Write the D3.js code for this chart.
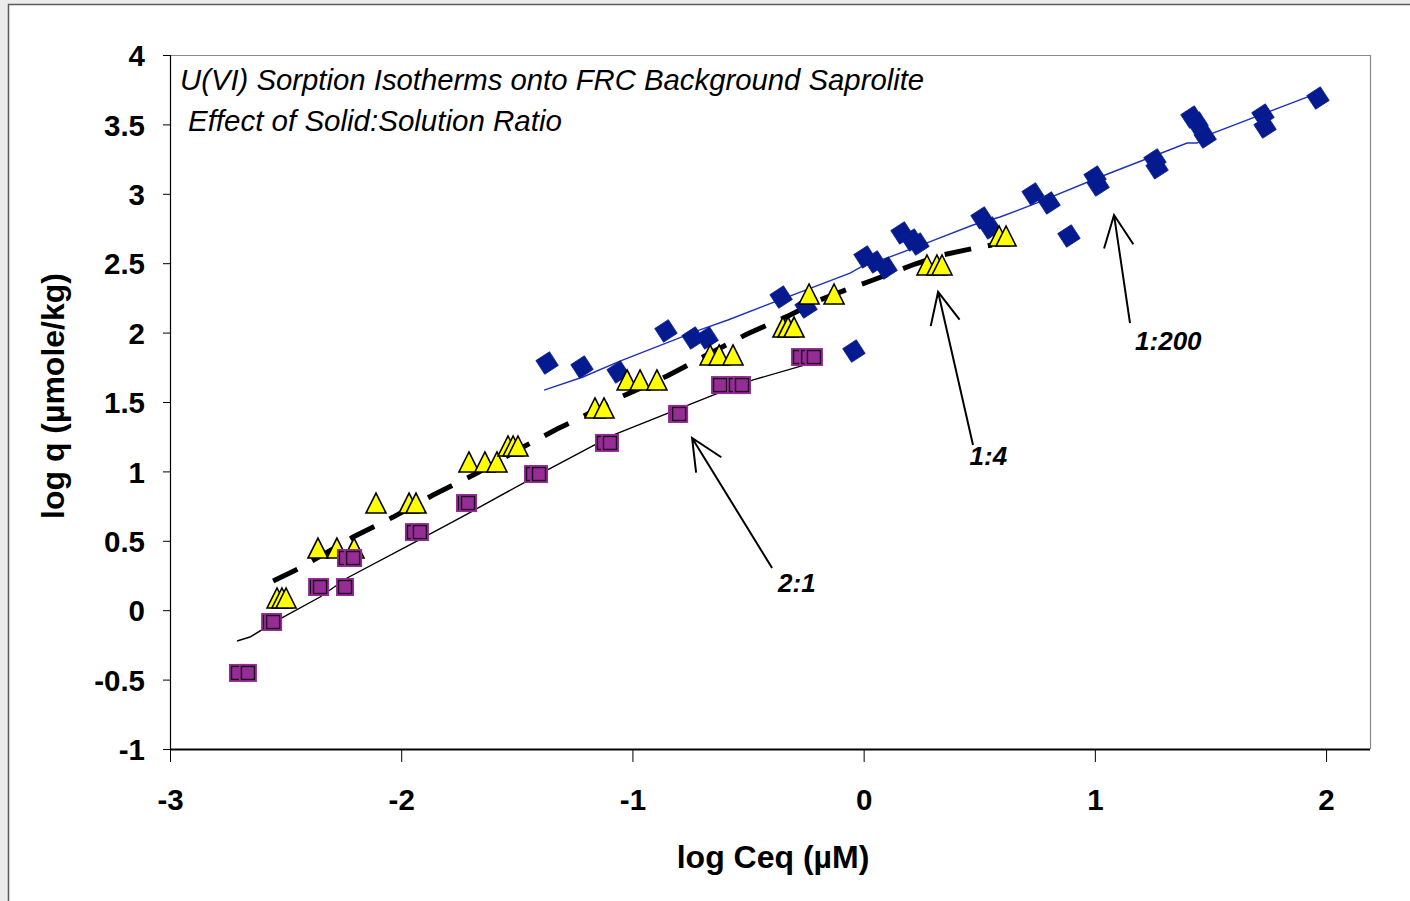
<!DOCTYPE html>
<html>
<head>
<meta charset="utf-8">
<script src="https://cdn.jsdelivr.net/npm/d3@7/dist/d3.min.js"></script>
<style>
  html, body { margin: 0; padding: 0; background: #ececec; }
  svg { display: block; font-family: "Liberation Sans", Arial, sans-serif; }
</style>
</head>
<body>
<svg id="chart" width="1410" height="901"></svg>
<script>
// U(VI) sorption isotherms: log q vs log Ceq for three solid:solution ratios

// 1:200 — measured points (diamonds)
const r200X = [-1.369, -1.218, -1.062, -0.855, -0.738, -0.677, -0.357, -0.249, -0.042,
  0.006, 0.049, 0.097, 0.166, 0.209, 0.235, 0.512, 0.547, 0.733, 0.802, 0.888,
  1.001, 1.014, 1.260, 1.269, 1.420, 1.442, 1.477, 1.727, 1.736, 1.965];
const r200Y = [1.781, 1.752, 1.716, 2.012, 1.961, 1.961, 2.256, 2.184, 1.867,
  2.545, 2.509, 2.465, 2.718, 2.667, 2.638, 2.826, 2.754, 2.999, 2.934, 2.696,
  3.121, 3.063, 3.244, 3.187, 3.553, 3.510, 3.409, 3.567, 3.481, 3.690];

// 1:4 — measured points (triangles)
const r4X = [-2.537, -2.516, -2.498, -2.360, -2.278, -2.204, -2.109, -1.966, -1.936,
  -1.707, -1.638, -1.586, -1.538, -1.516, -1.495, -1.162, -1.123, -1.023, -0.967,
  -0.894, -0.664, -0.625, -0.565, -0.349, -0.327, -0.301, -0.236, -0.128, 0.274,
  0.317, 0.339, 0.586, 0.616];
const r4Y = [0.088, 0.088, 0.088, 0.448, 0.448, 0.448, 0.772, 0.772, 0.772,
  1.068, 1.068, 1.068, 1.183, 1.183, 1.183, 1.457, 1.457, 1.659, 1.659,
  1.659, 1.839, 1.839, 1.839, 2.040, 2.040, 2.040, 2.278, 2.278, 2.487,
  2.487, 2.487, 2.696, 2.696];

// 2:1 — measured points (squares)
const r21X = [-2.706, -2.663, -2.567, -2.554, -2.364, -2.351, -2.243, -2.239, -2.208,
  -1.945, -1.919, -1.724, -1.711, -1.430, -1.404, -1.123, -1.097, -0.807, -0.798,
  -0.621, -0.552, -0.526, -0.275, -0.240, -0.215];
const r21Y = [-0.452, -0.452, -0.085, -0.085, 0.167, 0.167, 0.167, 0.376, 0.376,
  0.563, 0.563, 0.772, 0.772, 0.981, 0.981, 1.205, 1.205, 1.414, 1.414,
  1.622, 1.622, 1.622, 1.824, 1.824, 1.824];

// Fitted isotherm curves
const fit200X = [-1.382, -1.214, -1.054, -0.708, -0.587, -0.059, -0.003, 0.114, 0.274,
  0.473, 0.590, 0.750, 1.022, 1.399, 1.442, 1.511, 1.918, 1.965];
const fit200Y = [1.586, 1.680, 1.795, 2.019, 2.091, 2.429, 2.480, 2.545, 2.646,
  2.775, 2.833, 2.934, 3.121, 3.366, 3.366, 3.438, 3.697, 3.726];

const fit4X = [-2.554, -2.438, -2.208, -2.035, -1.862, -1.672, -1.473, -1.326, -1.218,
  -1.041, -0.850, -0.695, -0.504, -0.318, -0.189, -0.067, 0.041, 0.222, 0.339, 0.482, 0.555];
const fit4Y = [0.210, 0.304, 0.527, 0.671, 0.830, 0.988, 1.176, 1.305, 1.392,
  1.543, 1.687, 1.824, 1.990, 2.127, 2.235, 2.314, 2.379, 2.494, 2.559, 2.609, 2.631];

const fit21X = [-2.710, -2.654, -2.524, -2.351, -2.234, -1.949, -1.715, -1.369, -1.084,
  -0.651, -0.478, -0.253, -0.210];
const fit21Y = [-0.222, -0.193, -0.063, 0.095, 0.232, 0.484, 0.693, 1.010, 1.262,
  1.550, 1.659, 1.767, 1.788];

// Axis ticks
const xTicks = [-3, -2, -1, 0, 1, 2];
const yTicks = [-1, -0.5, 0, 0.5, 1, 1.5, 2, 2.5, 3, 3.5, 4];

// Ratio call-outs: label, arrow tip, arrow tail, label anchor (data units)
const calloutLabels = ["2:1", "1:4", "1:200"];
const calloutTip = [[-0.742, 1.241], [0.322, 2.293], [1.083, 2.847]];
const calloutTail = [[-0.396, 0.304], [0.473, 1.190], [1.152, 2.069]];
const calloutText = [[-0.370, 0.131], [0.458, 1.046], [1.174, 1.875]];

const svg = d3.select("#chart");
const plotLeft = 170, plotRight = 1370, plotTop = 55, plotBottom = 749;

const x = d3.scaleLinear().domain([-3, 2.19]).range([plotLeft, plotRight]);
const y = d3.scaleLinear().domain([-1, 4]).range([plotBottom, plotTop]);

// outer chart frame
svg.append("rect").attr("x", 8.5).attr("y", 4.5).attr("width", 1430).attr("height", 930)
  .attr("fill", "#ffffff").attr("stroke", "#5c5c5c").attr("stroke-width", 1.5);

// plot area border (top & right)
svg.append("path")
  .attr("d", `M${plotLeft},${plotTop + 0.5}H${plotRight + 0.5}V${plotBottom}`)
  .attr("fill", "none").attr("stroke", "#8a8a8a").attr("stroke-width", 1.2);

const fmt = d => d < 0 ? "-" + Math.abs(d) : String(d);

// axes
const xAxis = svg.append("g").attr("transform", `translate(0,${plotBottom})`)
  .call(d3.axisBottom(x).tickValues(xTicks).tickSize(13));
xAxis.select(".domain").attr("stroke", "#000").attr("stroke-width", 2)
  .attr("d", `M${plotLeft},0.5H${plotRight}`);
xAxis.selectAll(".tick line").attr("stroke", "#000").attr("stroke-width", 1);
xAxis.selectAll(".tick text").attr("dy", 0).attr("y", 61)
  .attr("font-size", 29.5).attr("font-weight", "bold").attr("fill", "#000")
  .attr("font-family", "Liberation Sans, Arial, sans-serif")
  .text(fmt);

const yAxis = svg.append("g").attr("transform", `translate(${plotLeft},0)`)
  .call(d3.axisLeft(y).tickValues(yTicks).tickSize(7));
yAxis.select(".domain").attr("stroke", "#000").attr("stroke-width", 1.2)
  .attr("d", `M0.5,${plotTop}V${plotBottom}`);
yAxis.selectAll(".tick line").attr("stroke", "#000").attr("stroke-width", 1);
yAxis.selectAll(".tick text").attr("x", -25).attr("dy", "0.36em")
  .attr("font-size", 29.5).attr("font-weight", "bold").attr("fill", "#000")
  .attr("font-family", "Liberation Sans, Arial, sans-serif")
  .text(fmt);

// axis titles
svg.append("text").attr("x", 773).attr("y", 868).attr("text-anchor", "middle")
  .attr("font-size", 32).attr("font-weight", "bold").text("log Ceq (µM)");
svg.append("text").attr("transform", "translate(64,396) rotate(-90)").attr("text-anchor", "middle")
  .attr("font-size", 32).attr("font-weight", "bold").text("log q (µmole/kg)");

// chart titles inside plot
svg.append("text").attr("x", 180).attr("y", 90).attr("font-size", 29.3).attr("font-style", "italic")
  .text("U(VI) Sorption Isotherms onto FRC Background Saprolite");
svg.append("text").attr("x", 188).attr("y", 131).attr("font-size", 29.5).attr("font-style", "italic")
  .text("Effect of Solid:Solution Ratio");

// fitted curves
const line = d3.line().x(d => x(d[0])).y(d => y(d[1]));
const zip = (a, b) => a.map((v, i) => [v, b[i]]);

svg.append("path").datum(zip(fit200X, fit200Y)).attr("d", line)
  .attr("fill", "none").attr("stroke", "#1f33b8").attr("stroke-width", 1.4);
svg.append("path").datum(zip(fit21X, fit21Y)).attr("d", line)
  .attr("fill", "none").attr("stroke", "#000").attr("stroke-width", 1.4);
svg.append("path").datum(zip(fit4X, fit4Y)).attr("d", line)
  .attr("fill", "none").attr("stroke", "#000").attr("stroke-width", 5)
  .attr("stroke-dasharray", "27,17");

// diamonds (1:200)
svg.append("g").selectAll("path").data(zip(r200X, r200Y)).join("path")
  .attr("transform", d => `translate(${x(d[0])},${y(d[1])}) rotate(12)`)
  .attr("d", "M0,-11.5L11.5,0L0,11.5L-11.5,0Z")
  .attr("fill", "#061a8f").attr("stroke", "#0a2196").attr("stroke-width", 0.8);

// triangles (1:4)
svg.append("g").selectAll("path").data(zip(r4X, r4Y)).join("path")
  .attr("transform", d => `translate(${x(d[0])},${y(d[1])})`)
  .attr("d", "M0,-10L10,10L-10,10Z")
  .attr("fill", "#ffff00").attr("stroke", "#000").attr("stroke-width", 1.6)
  .attr("stroke-linejoin", "miter");

// squares (2:1)
const sq = svg.append("g").selectAll("g").data(zip(r21X, r21Y)).join("g")
  .attr("transform", d => `translate(${x(d[0])},${y(d[1])})`);
sq.append("rect").attr("x", -9).attr("y", -9).attr("width", 18).attr("height", 18)
  .attr("fill", "#962d96");
sq.append("rect").attr("x", -6.5).attr("y", -6.5).attr("width", 13).attr("height", 13)
  .attr("fill", "none").attr("stroke", "#1e0a1e").attr("stroke-width", 1.4);

// call-out arrows and labels
const callouts = svg.append("g");
calloutLabels.forEach((lab, i) => {
  const tx = x(calloutTip[i][0]), ty = y(calloutTip[i][1]);
  const bx = x(calloutTail[i][0]), by = y(calloutTail[i][1]);
  const ang = Math.atan2(by - ty, bx - tx);
  const len = 35, spread = 25 * Math.PI / 180;
  const a1 = [tx + len * Math.cos(ang + spread), ty + len * Math.sin(ang + spread)];
  const a2 = [tx + len * Math.cos(ang - spread), ty + len * Math.sin(ang - spread)];
  callouts.append("path")
    .attr("d", `M${bx},${by}L${tx},${ty}M${a1[0]},${a1[1]}L${tx},${ty}L${a2[0]},${a2[1]}`)
    .attr("fill", "none").attr("stroke", "#000").attr("stroke-width", 2);
  callouts.append("text").attr("x", x(calloutText[i][0])).attr("y", y(calloutText[i][1]))
    .attr("font-size", 26).attr("font-style", "italic").attr("font-weight", "bold")
    .text(lab);
});
</script>
</body>
</html>
